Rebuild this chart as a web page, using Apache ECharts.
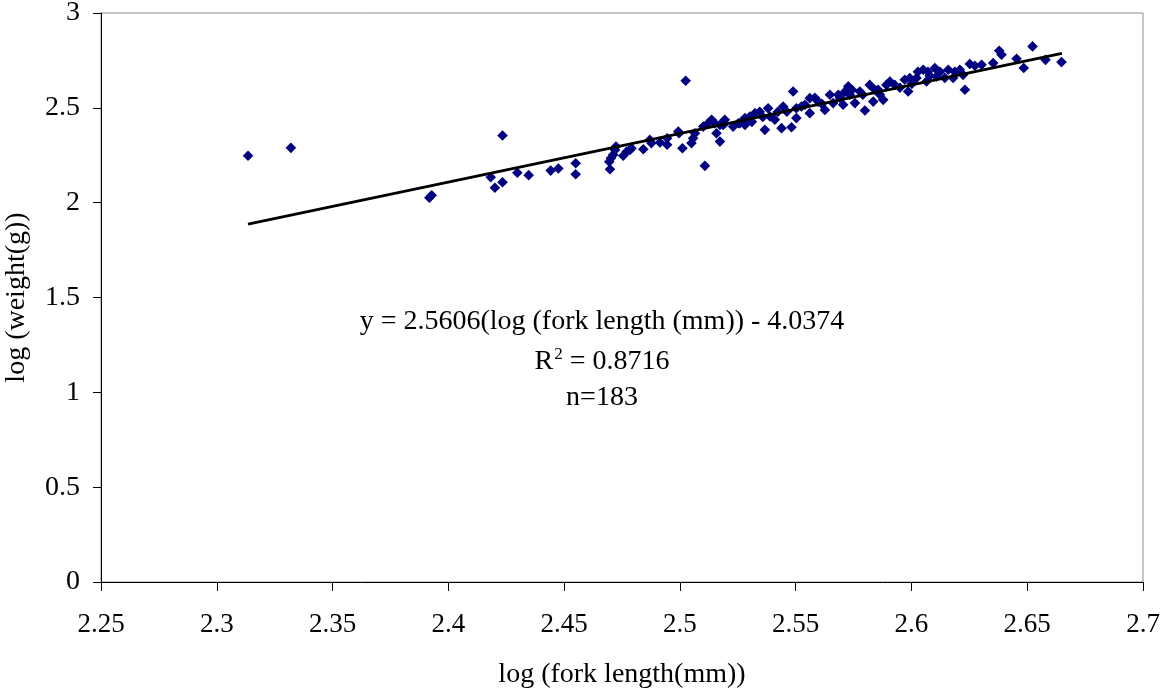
<!doctype html>
<html>
<head>
<meta charset="utf-8">
<title>log weight vs log fork length</title>
<script src="https://cdn.jsdelivr.net/npm/echarts@6/dist/echarts.min.js"></script>
<style>
  html, body { margin: 0; padding: 0; background: #fff; }
  #chart { width: 1160px; height: 688px; }
</style>
</head>
<body>
<div id="chart"></div>
<script>
// log (fork length(mm)) values
var logLength = [
  2.3135, 2.3320, 2.3918, 2.3928, 2.4183, 2.4201, 2.4234, 2.4234, 2.4298, 2.4347,
  2.4442, 2.4475, 2.4550, 2.4550, 2.4698, 2.4695, 2.4702, 2.4712, 2.4724, 2.4720,
  2.4755, 2.4770, 2.4784, 2.4791, 2.4842, 2.4870, 2.4877, 2.4914, 2.4945, 2.4945,
  2.4993, 2.4996, 2.5011, 2.5025, 2.5050, 2.5057, 2.5065, 2.5108, 2.5101, 2.5122,
  2.5137, 2.5151, 2.5173, 2.5158, 2.5187, 2.5230, 2.5252, 2.5259, 2.5281, 2.5302,
  2.5324, 2.5367, 2.5381, 2.5389, 2.5410, 2.5439, 2.5446, 2.5482, 2.5489, 2.5503,
  2.5503, 2.5525, 2.5561, 2.5561, 2.5597, 2.5626, 2.5648, 2.5662, 2.5684, 2.5705,
  2.5727, 2.5734, 2.5756, 2.5777, 2.5799, 2.5820, 2.5835, 2.5856, 2.5878, 2.5892,
  2.5907, 2.5986, 2.5993, 2.6022, 2.6051, 2.6065, 2.6101, 2.6108, 2.6159, 2.6180,
  2.6209, 2.6231, 2.6223, 2.6252, 2.6303, 2.6353, 2.6379, 2.6389, 2.6454, 2.6485,
  2.6523, 2.6579, 2.6648,
  2.5173, 2.5194, 2.5281, 2.5311, 2.5345, 2.5358, 2.5423, 2.5462, 2.5540, 2.5583,
  2.5613, 2.5691, 2.5712, 2.5743, 2.5790, 2.5842, 2.5864, 2.5928, 2.5950, 2.5971,
  2.6028, 2.6071, 2.6123, 2.6144, 2.6187, 2.6274, 2.6079, 2.6002
];
// log (weight(g)) values, same order
var logWeight = [
  2.247, 2.289, 2.026, 2.039, 2.134, 2.079, 2.108, 2.354, 2.158, 2.145,
  2.169, 2.180, 2.208, 2.150, 2.176, 2.216, 2.234, 2.252, 2.296, 2.278,
  2.247, 2.269, 2.278, 2.287, 2.282, 2.331, 2.314, 2.317, 2.305, 2.340,
  2.375, 2.366, 2.287, 2.643, 2.314, 2.340, 2.366, 2.194, 2.401, 2.419,
  2.437, 2.419, 2.322, 2.366, 2.410, 2.401, 2.419, 2.419, 2.446, 2.454,
  2.472, 2.384, 2.498, 2.454, 2.437, 2.393, 2.507, 2.398, 2.586, 2.446,
  2.498, 2.507, 2.551, 2.472, 2.533, 2.489, 2.569, 2.525, 2.569, 2.516,
  2.613, 2.569, 2.525, 2.586, 2.486, 2.621, 2.533, 2.595, 2.542, 2.621,
  2.639, 2.586, 2.657, 2.657, 2.701, 2.639, 2.710, 2.665, 2.701, 2.657,
  2.701, 2.595, 2.674, 2.731, 2.727, 2.736, 2.801, 2.780, 2.759, 2.710,
  2.824, 2.753, 2.741,
  2.410, 2.437, 2.410, 2.426, 2.479, 2.452, 2.479, 2.479, 2.516, 2.553,
  2.521, 2.553, 2.584, 2.595, 2.569, 2.595, 2.569, 2.621, 2.606, 2.648,
  2.690, 2.690, 2.690, 2.658, 2.690, 2.722, 2.669, 2.627
];
// trend line end points
var trendX = [2.3135, 2.665];
var trendY = [1.887, 2.787];

var xTicks = { min: 2.25, max: 2.7, step: 0.05 };
var yTicks = { min: 0, max: 3, step: 0.5 };

var serif = '"Liberation Serif", "DejaVu Serif", serif';

var points = logLength.map(function(v, i) { return [v, logWeight[i]]; });
var trend = trendX.map(function(v, i) { return [v, trendY[i]]; });

function tickFmt(v) { return String(parseFloat(v.toFixed(2))); }

function eqLine(y, text, rich) {
  return {
    type: 'text', x: 602, y: y, z: 10,
    style: {
      text: text,
      font: '28px ' + serif,
      fill: '#000',
      align: 'center',
      verticalAlign: 'middle',
      rich: rich
    }
  };
}

var chart = echarts.init(document.getElementById('chart'));
chart.setOption({
  animation: false,
  backgroundColor: '#fff',
  grid: {
    left: 101, right: 17, top: 13, bottom: 106,
    outerBoundsMode: 'none',
    containLabel: false,
    show: true, borderColor: '#8c8c8c', borderWidth: 1
  },
  xAxis: {
    type: 'value',
    min: xTicks.min, max: xTicks.max, interval: xTicks.step,
    name: 'log (fork length(mm))',
    nameLocation: 'middle', nameGap: 79,
    nameTextStyle: { fontFamily: serif, fontSize: 28, color: '#000' },
    axisLine: { show: true, onZero: false, lineStyle: { color: '#000', width: 1 } },
    axisTick: { show: true, inside: false, length: 9, lineStyle: { color: '#000' } },
    axisLabel: { margin: 29, fontFamily: serif, fontSize: 27, color: '#000', formatter: tickFmt,
      showMinLabel: true, showMaxLabel: true, hideOverlap: false },
    splitLine: { show: false }
  },
  yAxis: {
    type: 'value',
    min: yTicks.min, max: yTicks.max, interval: yTicks.step,
    name: 'log (weight(g))',
    nameLocation: 'middle', nameGap: 70, nameRotate: 90,
    nameTextStyle: { fontFamily: serif, fontSize: 28, color: '#000' },
    axisLine: { show: true, onZero: false, lineStyle: { color: '#000', width: 1 } },
    axisTick: { show: true, inside: false, length: 8, lineStyle: { color: '#000' } },
    axisLabel: { margin: 21, fontFamily: serif, fontSize: 28, color: '#000', formatter: tickFmt,
      showMinLabel: true, showMaxLabel: true, hideOverlap: false },
    splitLine: { show: false }
  },
  graphic: [
    eqLine(322, 'y = 2.5606(log (fork length (mm)) - 4.0374'),
    eqLine(362, '{r|R}{s|2}{r| = 0.8716}', {
      r: { fontFamily: serif, fontSize: 28, lineHeight: 32 },
      s: { fontFamily: serif, fontSize: 17, verticalAlign: 'top', lineHeight: 10, padding: [0, 0, 0, 1] }
    }),
    eqLine(398, 'n=183')
  ],
  series: [
    {
      name: 'data',
      type: 'scatter',
      symbol: 'rect',
      symbolSize: 7.5,
      symbolRotate: 45,
      itemStyle: { color: '#000080', opacity: 1 },
      data: points,
      z: 2
    },
    {
      name: 'trend',
      type: 'line',
      symbol: 'none',
      lineStyle: { color: '#000', width: 3 },
      data: trend,
      z: 3
    }
  ]
});
</script>
</body>
</html>
